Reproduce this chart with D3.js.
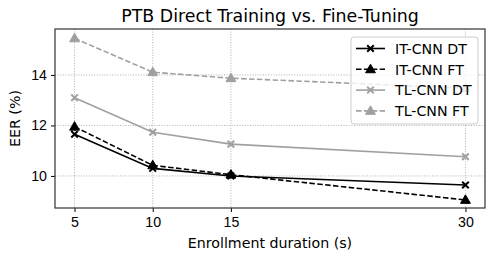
<!DOCTYPE html>
<html lang="en">
<head>
    <meta charset="UTF-8">
    <title>PTB Direct Training vs. Fine-Tuning</title>
    <style>
        body { margin: 0; background: #fff; }
        svg { font-family: "DejaVu Sans", sans-serif; }
        .grid line { stroke: #a8a8a8; stroke-dasharray: 1,1.6; stroke-width: 0.9; }
        .axis text { font-size: 14.2px; fill: #000; }
        .axis line { stroke: #000; }
    </style>
</head>
<body>
    <script src="https://d3js.org/d3.v7.min.js"></script>
    <script>
        const durations = [5, 10, 15, 30];
        const itCnnDt = [11.65, 10.3, 10.0, 9.64];
        const itCnnFt = [11.95, 10.42, 10.05, 9.05];
        const tlCnnDt = [13.1, 11.73, 11.26, 10.76];
        const tlCnnFt = [15.45, 14.11, 13.87, 13.48];
        const yTicks = [10, 12, 14];
        const seriesNames = ["IT-CNN DT", "IT-CNN FT", "TL-CNN DT", "TL-CNN FT"];

        const series = [
            { name: seriesNames[0], values: itCnnDt, color: "#000", dash: null, marker: "x" },
            { name: seriesNames[1], values: itCnnFt, color: "#000", dash: "5.5,2.4", marker: "tri" },
            { name: seriesNames[2], values: tlCnnDt, color: "#a0a0a0", dash: null, marker: "x" },
            { name: seriesNames[3], values: tlCnnFt, color: "#a0a0a0", dash: "5.5,2.4", marker: "tri" }
        ];

        const width = 499, height = 259;
        const margin = { top: 29, right: 14, bottom: 51, left: 55 };
        const w = width - margin.left - margin.right;
        const h = height - margin.top - margin.bottom;

        const svg = d3.select("body").append("svg")
            .attr("width", width)
            .attr("height", height);

        const g = svg.append("g")
            .attr("transform", `translate(${margin.left},${margin.top})`);

        const x = d3.scaleLinear().domain([3.75, 31.25]).range([0, w]);
        const y = d3.scaleLinear().domain([8.73, 15.82]).range([h, 0]);

        // grid
        g.append("g").attr("class", "grid")
            .selectAll("line").data(durations).enter().append("line")
            .attr("x1", d => x(d)).attr("x2", d => x(d))
            .attr("y1", 0).attr("y2", h);
        g.append("g").attr("class", "grid")
            .selectAll("line").data(yTicks).enter().append("line")
            .attr("x1", 0).attr("x2", w)
            .attr("y1", d => y(d)).attr("y2", d => y(d));

        // axes
        g.append("g").attr("class", "axis")
            .attr("transform", `translate(0,${h})`)
            .call(d3.axisBottom(x).tickValues(durations).tickSize(4).tickPadding(5))
            .call(a => a.select(".domain").remove());
        g.append("g").attr("class", "axis")
            .call(d3.axisLeft(y).tickValues(yTicks).tickSize(4).tickPadding(4))
            .call(a => a.select(".domain").remove());

        const line = d3.line()
            .x((d, i) => x(durations[i]))
            .y(d => y(d));

        series.forEach(s => {
            g.append("path")
                .datum(s.values)
                .attr("fill", "none")
                .attr("stroke", s.color)
                .attr("stroke-width", 1.6)
                .attr("stroke-dasharray", s.dash)
                .attr("d", line);
        });

        function drawMarker(sel, type, color, cx, cy) {
            if (type === "x") {
                const r = 3.3;
                sel.append("path")
                    .attr("d", `M${cx - r},${cy - r}L${cx + r},${cy + r}M${cx - r},${cy + r}L${cx + r},${cy - r}`)
                    .attr("stroke", color).attr("stroke-width", 2).attr("fill", "none");
            } else {
                sel.append("path")
                    .attr("d", d3.symbol().type(d3.symbolTriangle).size(42)())
                    .attr("transform", `translate(${cx},${cy + 0.6})`)
                    .attr("fill", color).attr("stroke", color).attr("stroke-width", 1);
            }
        }

        series.forEach(s => {
            const mg = g.append("g");
            s.values.forEach((v, i) => drawMarker(mg, s.marker, s.color, x(durations[i]), y(v)));
        });

        // frame
        g.append("rect")
            .attr("width", w).attr("height", h)
            .attr("fill", "none").attr("stroke", "#333").attr("stroke-width", 1.2);

        // title and labels
        svg.append("text")
            .attr("x", margin.left + w / 2).attr("y", 22)
            .attr("text-anchor", "middle")
            .attr("font-size", 17.4)
            .text("PTB Direct Training vs. Fine-Tuning");

        svg.append("text")
            .attr("x", margin.left + w / 2).attr("y", 248)
            .attr("text-anchor", "middle")
            .attr("font-size", 14.2)
            .text("Enrollment duration (s)");

        svg.append("text")
            .attr("transform", `translate(20,${margin.top + h / 2}) rotate(-90)`)
            .attr("text-anchor", "middle")
            .attr("font-size", 14.2)
            .text("EER (%)");

        // legend
        const legend = svg.append("g").attr("transform", "translate(351,37)");
        legend.append("rect")
            .attr("width", 127).attr("height", 87)
            .attr("rx", 3)
            .attr("fill", "#fff").attr("fill-opacity", 0.8)
            .attr("stroke", "#ccc");

        series.forEach((s, i) => {
            const ly = 11.5 + i * 20.8;
            legend.append("line")
                .attr("x1", 5).attr("x2", 34)
                .attr("y1", ly).attr("y2", ly)
                .attr("stroke", s.color).attr("stroke-width", 1.6)
                .attr("stroke-dasharray", s.dash);
            drawMarker(legend, s.marker, s.color, 19.5, ly);
            legend.append("text")
                .attr("x", 44).attr("y", ly + 5.2)
                .attr("font-size", 14.2)
                .text(s.name);
        });
    </script>
</body>
</html>
